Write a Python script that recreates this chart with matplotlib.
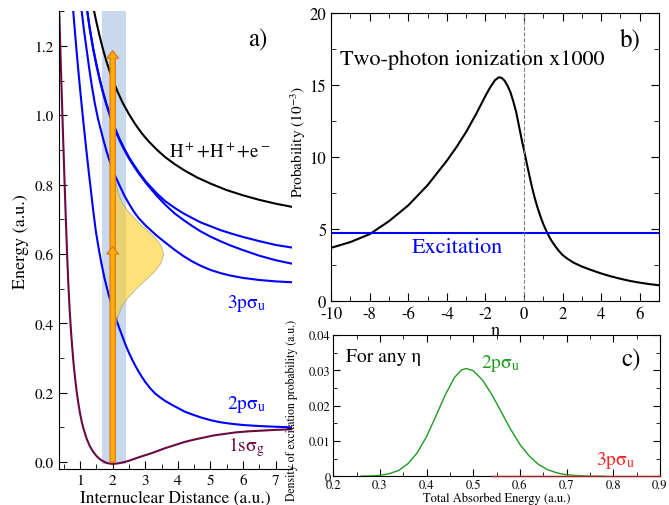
import matplotlib
matplotlib.use('Agg')
import matplotlib.pyplot as plt
from matplotlib.patches import FancyArrowPatch
from matplotlib.ticker import MultipleLocator, FuncFormatter

plt.rcParams['font.family'] = 'STIXGeneral'
plt.rcParams['mathtext.fontset'] = 'stix'
plt.rcParams['axes.unicode_minus'] = False

# ---- panel a: potential curves (R in a.u., E in a.u.) ----
R_1s = [0.36, 0.40, 0.44, 0.48, 0.52, 0.56, 0.60, 0.64, 0.68, 0.72, 0.76, 0.80, 0.85, 0.90,
        0.95, 1.0, 1.05, 1.1, 1.2, 1.3, 1.4, 1.5, 1.6, 1.7, 1.8, 1.9, 2.0, 2.1, 2.2, 2.35,
        2.5, 2.65, 2.8, 3.0, 3.2, 3.4, 3.6, 3.9, 4.2, 4.5, 4.8, 5.1, 5.4, 5.8, 6.2, 6.6, 7.0, 7.6]
E_1s = [1.30, 1.175, 1.055, 0.935, 0.82, 0.71, 0.605, 0.515, 0.44, 0.38, 0.33, 0.285, 0.24, 0.20,
        0.168, 0.14, 0.117, 0.098, 0.068, 0.046, 0.030, 0.018, 0.009, 0.003, -0.002, -0.004,
        -0.005, -0.0045, -0.003, 0.0, 0.004, 0.009, 0.014, 0.020, 0.026, 0.033, 0.040, 0.049,
        0.058, 0.065, 0.071, 0.077, 0.081, 0.086, 0.089, 0.091, 0.093, 0.095]

R_2p = [0.79, 0.85, 0.9, 0.95, 1.0, 1.05, 1.1, 1.15, 1.2, 1.26, 1.33, 1.4, 1.48, 1.56, 1.65,
        1.75, 1.87, 2.0, 2.1, 2.2, 2.3, 2.4, 2.5, 2.6, 2.7, 2.8, 2.9, 3.0, 3.15, 3.3, 3.45,
        3.6, 3.8, 4.0, 4.2, 4.45, 4.7, 5.0, 5.3, 5.6, 6.0, 6.5, 7.0, 7.6]
E_2p = [1.30, 1.232, 1.178, 1.126, 1.076, 1.028, 0.982, 0.937, 0.893, 0.842, 0.785, 0.728,
        0.668, 0.622, 0.575, 0.53, 0.485, 0.443, 0.414, 0.387, 0.362, 0.337, 0.315, 0.295,
        0.277, 0.26, 0.245, 0.231, 0.213, 0.198, 0.187, 0.177, 0.166, 0.156, 0.146, 0.137,
        0.129, 0.121, 0.115, 0.111, 0.107, 0.104, 0.102, 0.10]

R_3p = [1.05, 1.12, 1.2, 1.28, 1.36, 1.45, 1.55, 1.67, 1.8, 1.9, 2.0, 2.1, 2.2, 2.35, 2.5,
        2.65, 2.8, 3.0, 3.15, 3.35, 3.6, 3.9, 4.17, 4.45, 4.7, 5.0, 5.3, 5.6, 6.0, 6.5, 7.0, 7.6]
E_3p = [1.30, 1.245, 1.19, 1.135, 1.085, 1.035, 0.99, 0.945, 0.90, 0.87, 0.845, 0.82, 0.80,
        0.77, 0.745, 0.722, 0.703, 0.683, 0.67, 0.653, 0.634, 0.612, 0.594, 0.578, 0.566,
        0.554, 0.545, 0.538, 0.531, 0.525, 0.521, 0.518]

R_up = [1.22, 1.3, 1.4, 1.5, 1.6, 1.7, 1.8, 1.93, 2.07, 2.2, 2.35, 2.5, 2.65, 2.8, 3.0, 3.15,
        3.35, 3.6, 3.9, 4.17, 4.45, 4.7, 5.0, 5.3, 5.6, 6.0, 6.5, 7.0, 7.6]
E_up1 = [1.30, 1.25, 1.195, 1.148, 1.106, 1.069, 1.036, 0.998, 0.963, 0.934, 0.905, 0.879,
         0.857, 0.836, 0.811, 0.795, 0.775, 0.753, 0.733, 0.717, 0.703, 0.691, 0.680, 0.669,
         0.660, 0.649, 0.637, 0.626, 0.617]
E_up2 = [1.30, 1.246, 1.191, 1.144, 1.102, 1.065, 1.032, 0.994, 0.959, 0.930, 0.901, 0.875,
         0.853, 0.832, 0.807, 0.790, 0.768, 0.743, 0.717, 0.698, 0.680, 0.665, 0.650, 0.637,
         0.625, 0.611, 0.595, 0.582, 0.570]

R_ion = [1.43, 1.5, 1.6, 1.7, 1.8, 1.9, 2.0, 2.15, 2.3, 2.5, 2.7, 2.9, 3.1, 3.35, 3.6, 3.9,
         4.2, 4.6, 5.0, 5.5, 6.0, 6.5, 7.0, 7.6]
E_ion = [1.30, 1.269, 1.228, 1.191, 1.158, 1.129, 1.103, 1.068, 1.037, 1.003, 0.973, 0.947,
         0.925, 0.901, 0.88, 0.859, 0.841, 0.82, 0.803, 0.784, 0.769, 0.756, 0.745, 0.734]

# wave packet outline (yellow)
wp_E = [0.37, 0.40, 0.425, 0.45, 0.475, 0.50, 0.525, 0.55, 0.575, 0.60,
        0.625, 0.65, 0.675, 0.70, 0.725, 0.75, 0.775, 0.80, 0.83]
wp_R = [2.06, 2.10, 2.16, 2.27, 2.45, 2.70, 2.98, 3.27, 3.47, 3.55,
        3.47, 3.27, 2.98, 2.70, 2.45, 2.27, 2.16, 2.10, 2.06]

# ---- panel b: ionization vs eta ----
eta = [-10, -9, -8, -7, -6, -5, -4, -3.5, -3, -2.5, -2, -1.75, -1.5, -1.3, -1.15, -1.0, -0.85,
       -0.7, -0.55, -0.4, -0.25, -0.1, 0, 0.1, 0.25, 0.4, 0.55, 0.7, 0.85, 1.0, 1.2, 1.4, 1.6,
       1.8, 2.0, 2.3, 2.6, 3.0, 3.5, 4, 4.5, 5, 5.5, 6, 6.5, 7]
prob = [3.7, 4.1, 4.65, 5.55, 6.65, 8.05, 9.75, 10.7, 11.75, 12.95, 14.25, 14.85, 15.35, 15.55,
        15.5, 15.3, 14.95, 14.5, 13.85, 13.1, 12.1, 11.1, 10.5, 9.85, 8.9, 8.0, 7.2, 6.5, 5.9,
        5.35, 4.75, 4.25, 3.85, 3.5, 3.2, 2.9, 2.65, 2.4, 2.15, 1.92, 1.72, 1.55, 1.4, 1.28,
        1.18, 1.1]
excitation = 4.7

# ---- panel c: excitation density ----
Etot = [0.26, 0.28, 0.30, 0.32, 0.34, 0.36, 0.38, 0.40, 0.42, 0.44, 0.46, 0.475, 0.485, 0.50,
        0.52, 0.54, 0.56, 0.58, 0.60, 0.62, 0.64, 0.66, 0.68, 0.70, 0.72, 0.75, 0.78]
dens = [0.0, 0.00005, 0.0002, 0.0007, 0.0016, 0.0035, 0.0066, 0.0112, 0.0170, 0.0230, 0.0280,
        0.0301, 0.0305, 0.0299, 0.0272, 0.0231, 0.0182, 0.0133, 0.0090, 0.0057, 0.0033,
        0.0018, 0.0009, 0.0004, 0.0002, 0.00003, 0.0]
E3p = [0.54, 0.9]
dens3p = [0.0, 0.0]

fig = plt.figure(figsize=(6.69, 5.06), dpi=100)

# ================= panel a =================
axa = fig.add_axes([0.088, 0.071, 0.3485, 0.905])
axa.fill_between([1.67, 2.40], -0.006, 1.3, color='#cad8ee', lw=0, zorder=0)
axa.plot(R_1s, E_1s, color='#6b0a40', lw=1.5, zorder=2)
axa.plot(R_2p, E_2p, color='#0000ff', lw=1.5, zorder=2)
axa.plot(R_3p, E_3p, color='#0000ff', lw=1.5, zorder=2)
axa.plot(R_up, E_up1, color='#0000ff', lw=1.5, zorder=2)
axa.plot(R_up, E_up2, color='#0000ff', lw=1.5, zorder=2)
axa.plot(R_ion, E_ion, color='black', lw=1.5, zorder=2)
axa.fill_betweenx(wp_E, 2.05, wp_R, facecolor='#fccd21', alpha=0.6,
                  edgecolor='#9a8a60', lw=0.6, zorder=3)

arrow_style = 'simple,head_length=0.55,head_width=0.85,tail_width=0.38'
for y0, y1 in [(0.595, 1.186), (0.0, 0.622)]:
    axa.add_patch(FancyArrowPatch((2.0, y0), (2.0, y1), arrowstyle=arrow_style,
                                  mutation_scale=10, fc='#ffad00', ec='#e0781f',
                                  lw=0.9, shrinkA=0, shrinkB=0, zorder=5))

axa.set_xlim(0.35, 7.5)
axa.set_ylim(-0.02, 1.3)
axa.spines['top'].set_visible(False)
axa.spines['right'].set_visible(False)
axa.xaxis.set_major_locator(MultipleLocator(1))
axa.xaxis.set_minor_locator(MultipleLocator(0.5))
axa.yaxis.set_major_locator(MultipleLocator(0.2))
axa.yaxis.set_minor_locator(MultipleLocator(0.1))
axa.yaxis.set_major_formatter(FuncFormatter(lambda v, p: f'{v:.1f}'))
axa.tick_params(which='both', direction='in', labelsize=11)
axa.tick_params(which='major', length=6)
axa.tick_params(which='minor', length=3.5)
axa.set_xlabel('Internuclear Distance (a.u.)', fontsize=12.5, labelpad=2)
axa.set_ylabel('Energy (a.u.)', fontsize=13, labelpad=4)

axa.text(6.46, 1.22, 'a)', fontsize=18, ha='center', va='center')
axa.text(5.29, 0.895, 'H$^+$+H$^+$+e$^-$', fontsize=13.5, ha='center', va='center')
axa.text(5.5, 0.46, '3pσ$_{\\rm u}$', fontsize=14, color='#0000ff', ha='left', va='center')
axa.text(5.5, 0.17, '2pσ$_{\\rm u}$', fontsize=14, color='#0000ff', ha='left', va='center')
axa.text(5.54, 0.045, '1sσ$_{\\rm g}$', fontsize=14, color='#6b0a40', ha='left', va='center')

# ================= panel b =================
axb = fig.add_axes([0.495, 0.403, 0.49, 0.569])
axb.plot(eta, prob, color='black', lw=1.5)
axb.axhline(excitation, color='#0000ff', lw=1.5)
axb.axvline(0, color='gray', ls='--', lw=0.8)
axb.set_xlim(-10, 7)
axb.set_ylim(0, 20)
axb.xaxis.set_major_locator(MultipleLocator(2))
axb.xaxis.set_minor_locator(MultipleLocator(1))
axb.yaxis.set_major_locator(MultipleLocator(5))
axb.yaxis.set_minor_locator(MultipleLocator(2.5))
axb.tick_params(which='both', direction='in', top=True, right=True, labelsize=12)
axb.tick_params(which='major', length=6)
axb.tick_params(which='minor', length=3.5)
axb.set_xlabel('η', fontsize=13, labelpad=0)
axb.set_ylabel('Probability (10$^{-3}$)', fontsize=11, labelpad=4)
axb.yaxis.set_label_coords(-0.07, 0.555)
axb.text(5.52, 18.2, 'b)', fontsize=18, ha='center', va='center')
axb.text(-2.66, 16.8, 'Two-photon ionization x1000', fontsize=16, ha='center', va='center')
axb.text(-3.44, 3.73, 'Excitation', fontsize=16, color='#0000ff', ha='center', va='center')

# ================= panel c =================
axc = fig.add_axes([0.498, 0.057, 0.4885, 0.279])
axc.plot(Etot, dens, color='#1e9a1e', lw=1.0, zorder=3)
axc.plot(E3p, dens3p, color='#ff6060', lw=1.8, alpha=0.5, clip_on=False, zorder=4)
axc.set_xlim(0.2, 0.9)
axc.set_ylim(0, 0.04)
axc.xaxis.set_major_locator(MultipleLocator(0.1))
axc.xaxis.set_minor_locator(MultipleLocator(0.05))
axc.yaxis.set_major_locator(MultipleLocator(0.01))
axc.yaxis.set_minor_locator(MultipleLocator(0.005))
fmt = FuncFormatter(lambda v, p: '0' if abs(v) < 1e-9 else f'{v:.2f}')
axc.yaxis.set_major_formatter(fmt)
axc.xaxis.set_major_formatter(FuncFormatter(lambda v, p: f'{v:.1f}'))
axc.tick_params(which='both', direction='in', top=True, right=True, labelsize=9, pad=2)
axc.tick_params(which='major', length=5)
axc.tick_params(which='minor', length=3)
axc.set_xlabel('Total Absorbed Energy (a.u.)', fontsize=9, labelpad=1)
axc.set_ylabel('Density of excitation probability (a.u.)', fontsize=8.5, labelpad=3)
axc.yaxis.set_label_coords(-0.108, 0.47)
axc.text(0.309, 0.034, 'For any η', fontsize=14, ha='center', va='center')
axc.text(0.517, 0.0323, '2pσ$_{\\rm u}$', fontsize=14, color='#1e9a1e', ha='left', va='center')
axc.text(0.764, 0.0048, '3pσ$_{\\rm u}$', fontsize=14, color='#ff2020', ha='left', va='center')
axc.text(0.838, 0.033, 'c)', fontsize=18, ha='center', va='center')

fig.savefig('out.png', dpi=100)
